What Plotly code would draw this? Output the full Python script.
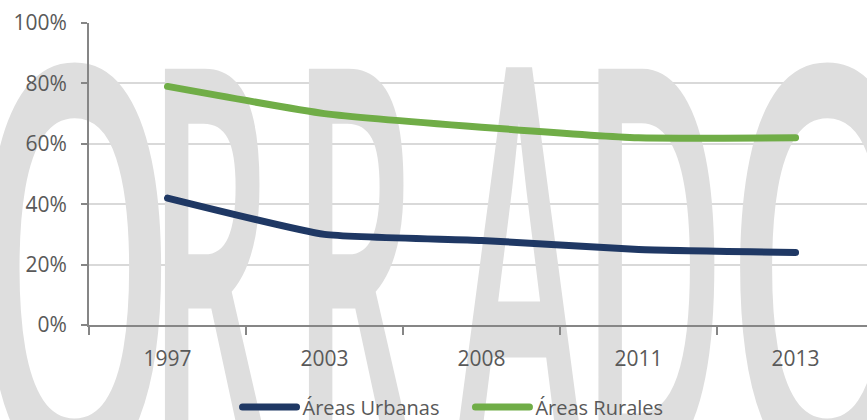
import plotly.graph_objects as go

# ---- data ----
years = ["1997", "2003", "2008", "2011", "2013"]
urbanas = [0.42, 0.30, 0.28, 0.25, 0.24]
rurales = [0.79, 0.70, 0.655, 0.62, 0.62]
series_names = ["Áreas Urbanas", "Áreas Rurales"]
series_colors = ["#1f3864", "#70ad47"]
y_ticks = [0, 0.2, 0.4, 0.6, 0.8, 1.0]

# watermark ("BORRADOR", visible part), decorative text behind the chart
watermark_letters = ["O", "R", "R", "A", "D", "O"]
watermark_x = [-0.092, 0.271, 1.188, 2.239, 3.092, 4.20]
watermark_pos = ["middle left"] + ["middle center"] * 5

xpos = list(range(len(years)))

fig = go.Figure()

# watermark first so that it sits beneath the data lines
fig.add_trace(go.Scatter(
    x=watermark_x, y=[0.152] * len(watermark_letters), mode="text",
    text=watermark_letters, textposition=watermark_pos,
    textfont=dict(family="Open Sans", size=200, color="#dedede", weight=600),
    cliponaxis=False, showlegend=False, hoverinfo="skip",
))

for name, vals, col in zip(series_names, [urbanas, rurales], series_colors):
    fig.add_trace(go.Scatter(
        x=xpos, y=vals, name=name, mode="lines",
        line=dict(color=col, width=7, shape="spline", smoothing=0.45),
    ))

fig.update_layout(
    width=867, height=420,
    margin=dict(l=89, r=0, t=23, b=95, autoexpand=False),
    paper_bgcolor="white", plot_bgcolor="white",
    font=dict(family="Open Sans", size=21, color="#595959"),
    legend=dict(
        orientation="h", xref="container", yref="container",
        x=0.244, y=0.031, xanchor="left", yanchor="middle",
        bgcolor="rgba(0,0,0,0)", font=dict(size=20, color="#595959"),
        itemwidth=81,
    ),
    xaxis=dict(
        range=[-0.5, 4.455], tickmode="array", tickvals=xpos, ticktext=years,
        ticks="", showgrid=False, zeroline=False, automargin=False,
        showline=True, linecolor="#868686", linewidth=2,
        ticklabelstandoff=14,
        minor=dict(tick0=-0.5, dtick=1, ticks="outside", ticklen=8,
                   tickwidth=2, tickcolor="#868686", showgrid=False),
    ),
    yaxis=dict(
        range=[0, 1], tickmode="array", tickvals=y_ticks, tickformat=".0%",
        showgrid=True, gridcolor="#d9d9d9", gridwidth=1.5, zeroline=False,
        showline=True, linecolor="#868686", linewidth=2, automargin=False,
        ticks="outside", ticklen=6, tickwidth=2, tickcolor="#868686",
        ticklabelstandoff=10,
    ),
)

post_js = """
document.body.style.margin = '0';
var gd = document.getElementById('{plot_id}');
gd.querySelectorAll('g.textpoint text').forEach(function(t){
  var b = t.getBBox();
  var cx = b.x + b.width/2, cy = b.y + b.height/2;
  var sx = (t.textContent === 'O') ? 1.3 : 1.0;
  var old = t.getAttribute('transform') || '';
  t.setAttribute('transform', old + ' translate(' + cx + ',' + cy + ') scale(' + sx + ',2.8) translate(' + (-cx) + ',' + (-cy) + ')');
});
gd.querySelectorAll('path.js-line').forEach(function(p){ p.style.strokeLinecap = 'round'; });
gd.querySelectorAll('g.legend g.traces').forEach(function(g){
  var t = g.querySelector('text.legendtext');
  var l = g.querySelector('path.js-line');
  if (t && l) {
    var tx = parseFloat(t.getAttribute('x')) || 40;
    l.setAttribute('d', 'M' + (tx - 60) + ',0h54');
  }
});
"""

fig.write_html("out.html", post_script=post_js, config={"displayModeBar": False})
